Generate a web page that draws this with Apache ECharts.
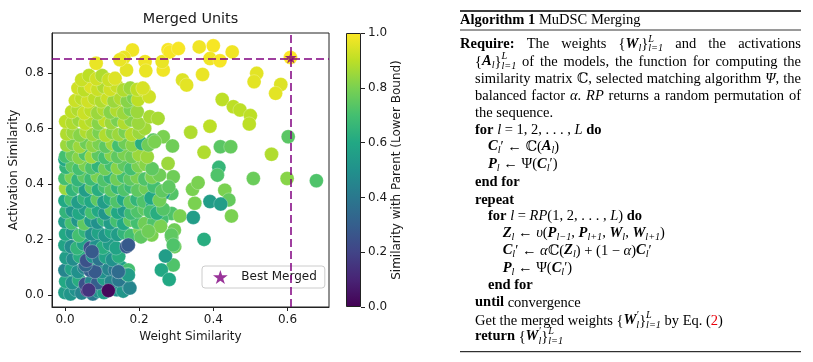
<!DOCTYPE html>
<html><head><meta charset="utf-8">
<script src="https://cdn.jsdelivr.net/npm/echarts@6/dist/echarts.min.js"></script>
<style>html,body{margin:0;padding:0;background:#fff}#c{width:813px;height:362px}</style>
</head><body><div id="c"></div><script>
// ---- data ----
const weightTicks = [0, 0.2, 0.4, 0.6];
const activationTicks = [0, 0.2, 0.4, 0.6, 0.8];
const colorbarTicks = [0, 0.2, 0.4, 0.6, 0.8, 1.0];
const viridis = ['#440154','#482475','#414487','#355f8d','#2a788e','#21918c','#22a884','#44bf70','#7ad151','#bddf26','#fde725'];
const bestMerged = [0.609, 0.855];
const colorbarValue = [1];
// [weight similarity, activation similarity, similarity with parent]
const clusterPoints = [
[0.000,0.010,0.55],[0.015,0.005,0.52],[0.030,0.020,0.50],[0.045,0.008,0.45],[0.060,0.019,0.15],[0.075,0.005,0.40],[0.090,0.015,0.50],[0.105,0.010,0.55],[0.140,0.020,0.50],[0.157,0.015,0.52],[0.173,0.029,0.45],
[0.002,0.050,0.60],[0.020,0.045,0.50],[0.038,0.055,0.62],[0.055,0.040,0.25],[0.072,0.050,0.45],[0.088,0.045,0.30],[0.105,0.060,0.55],[0.125,0.050,0.45],[0.145,0.055,0.40],
[0.000,0.090,0.45],[0.018,0.095,0.58],[0.035,0.085,0.50],[0.052,0.100,0.45],[0.068,0.090,0.30],[0.085,0.100,0.58],[0.100,0.085,0.50],[0.118,0.095,0.45],[0.135,0.091,0.40],[0.152,0.100,0.58],[0.171,0.091,0.70],[0.168,0.075,0.70],[0.144,0.085,0.38],[0.081,0.085,0.28],[0.055,0.109,0.33],
[0.003,0.135,0.55],[0.022,0.130,0.48],[0.040,0.140,0.62],[0.058,0.125,0.25],[0.075,0.140,0.50],[0.092,0.130,0.38],[0.110,0.138,0.58],[0.128,0.128,0.50],[0.145,0.140,0.62],
[0.000,0.180,0.58],[0.017,0.175,0.48],[0.033,0.170,0.65],[0.050,0.185,0.58],[0.068,0.170,0.25],[0.085,0.180,0.50],[0.102,0.172,0.62],[0.120,0.185,0.55],[0.138,0.170,0.58],[0.073,0.157,0.28],
[0.002,0.220,0.60],[0.020,0.225,0.52],[0.038,0.215,0.70],[0.055,0.230,0.65],[0.072,0.220,0.50],[0.090,0.225,0.58],[0.108,0.215,0.52],[0.125,0.228,0.60],[0.142,0.218,0.55],[0.160,0.225,0.65],[0.178,0.215,0.70],[0.202,0.235,0.80],
[0.000,0.265,0.55],[0.018,0.260,0.70],[0.035,0.270,0.52],[0.052,0.258,0.75],[0.070,0.268,0.55],[0.088,0.262,0.50],[0.105,0.272,0.65],[0.122,0.260,0.55],[0.140,0.268,0.70],[0.158,0.258,0.60],[0.176,0.270,0.75],[0.195,0.262,0.70],[0.215,0.258,0.78],
[0.003,0.300,0.65],[0.020,0.305,0.52],[0.038,0.295,0.60],[0.055,0.310,0.55],[0.072,0.298,0.70],[0.090,0.305,0.60],[0.108,0.295,0.52],[0.125,0.308,0.75],[0.142,0.298,0.60],[0.160,0.305,0.55],[0.178,0.295,0.68],[0.196,0.302,0.72],[0.215,0.310,0.75],
[0.000,0.340,0.60],[0.017,0.345,0.70],[0.035,0.335,0.55],[0.052,0.348,0.65],[0.070,0.338,0.60],[0.088,0.345,0.75],[0.105,0.335,0.55],[0.122,0.348,0.62],[0.140,0.338,0.72],[0.158,0.345,0.60],[0.176,0.335,0.75],[0.194,0.345,0.65],[0.212,0.338,0.72],
[0.002,0.385,0.85],[0.020,0.380,0.65],[0.038,0.390,0.70],[0.055,0.378,0.55],[0.072,0.388,0.75],[0.090,0.380,0.62],[0.108,0.390,0.70],[0.125,0.378,0.75],[0.142,0.388,0.65],[0.160,0.380,0.72],[0.178,0.390,0.68],[0.196,0.378,0.75],[0.218,0.385,0.78],
[0.000,0.420,0.70],[0.018,0.425,0.80],[0.035,0.415,0.65],[0.052,0.428,0.75],[0.070,0.418,0.68],[0.088,0.428,0.80],[0.105,0.415,0.72],[0.122,0.425,0.65],[0.140,0.418,0.78],[0.158,0.428,0.70],[0.176,0.418,0.75],[0.195,0.425,0.80],[0.215,0.418,0.72],
[0.003,0.460,0.65],[0.000,0.488,0.60],[0.020,0.465,0.75],[0.038,0.455,0.70],[0.055,0.468,0.80],[0.072,0.458,0.72],[0.090,0.465,0.65],[0.108,0.455,0.78],[0.125,0.468,0.70],[0.142,0.458,0.82],[0.160,0.468,0.75],[0.178,0.455,0.70],[0.198,0.465,0.80],[0.211,0.486,0.80],
[0.002,0.500,0.70],[0.020,0.505,0.78],[0.038,0.495,0.82],[0.055,0.508,0.72],[0.072,0.498,0.85],[0.090,0.505,0.75],[0.108,0.495,0.70],[0.125,0.505,0.82],[0.142,0.498,0.75],[0.160,0.508,0.80],[0.180,0.498,0.78],[0.200,0.505,0.85],
[0.005,0.540,0.85],[0.022,0.545,0.80],[0.040,0.535,0.85],[0.058,0.548,0.78],[0.075,0.538,0.83],[0.092,0.545,0.80],[0.110,0.535,0.75],[0.128,0.545,0.85],[0.145,0.538,0.70],[0.162,0.548,0.78],[0.182,0.540,0.82],[0.207,0.546,0.62],
[0.005,0.580,0.88],[0.022,0.585,0.85],[0.040,0.575,0.82],[0.058,0.588,0.88],[0.075,0.578,0.85],[0.092,0.585,0.80],[0.110,0.575,0.88],[0.128,0.585,0.82],[0.145,0.578,0.85],[0.162,0.588,0.80],[0.180,0.578,0.88],[0.200,0.585,0.85],[0.215,0.600,0.86],
[0.002,0.625,0.90],[0.020,0.620,0.88],[0.038,0.630,0.85],[0.055,0.618,0.90],[0.072,0.628,0.88],[0.090,0.618,0.82],[0.108,0.628,0.90],[0.125,0.620,0.85],[0.142,0.630,0.80],[0.160,0.620,0.88],[0.178,0.630,0.82],[0.198,0.618,0.85],
[0.018,0.660,0.90],[0.035,0.668,0.88],[0.052,0.655,0.92],[0.070,0.665,0.90],[0.088,0.655,0.85],[0.105,0.668,0.88],[0.122,0.658,0.82],[0.140,0.665,0.88],[0.158,0.655,0.85],[0.176,0.668,0.80],[0.195,0.660,0.85],
[0.028,0.700,0.92],[0.045,0.708,0.90],[0.062,0.698,0.93],[0.080,0.708,0.90],[0.098,0.698,0.88],[0.115,0.708,0.92],[0.132,0.698,0.85],[0.150,0.708,0.88],[0.168,0.698,0.82],[0.185,0.710,0.80],[0.197,0.703,0.90],
[0.035,0.745,0.93],[0.052,0.738,0.90],[0.070,0.750,0.95],[0.088,0.740,0.92],[0.105,0.750,0.88],[0.122,0.740,0.93],[0.140,0.752,0.92],[0.158,0.738,0.88],[0.176,0.745,0.85],[0.195,0.740,0.90],
[0.045,0.775,0.92],[0.065,0.790,0.90],[0.085,0.778,0.93],[0.100,0.790,0.88],[0.118,0.775,0.92],[0.135,0.780,0.95],
[0.117,0.017,0.02],[0.166,0.175,0.28],[0.171,0.181,0.28],[0.064,0.019,0.15]
];
const sparsePoints = [
[0.182,0.882,0.98],[0.084,0.834,0.97],[0.159,0.855,0.97],[0.166,0.810,0.96],[0.148,0.847,0.97],[0.216,0.840,0.98],[0.218,0.807,0.97],[0.265,0.810,0.98],[0.262,0.840,0.97],[0.278,0.883,0.99],[0.283,0.875,0.99],[0.306,0.887,0.99],[0.362,0.893,0.98],[0.400,0.897,0.99],[0.391,0.851,0.98],[0.418,0.843,0.99],[0.451,0.875,0.98],[0.371,0.794,0.97],[0.317,0.774,0.95],[0.328,0.756,0.96],[0.517,0.798,0.96],[0.510,0.768,0.96],[0.582,0.758,0.95],[0.568,0.726,0.96],[0.608,0.855,1.00],
[0.213,0.738,0.93],[0.227,0.714,0.93],[0.210,0.745,0.94],[0.229,0.642,0.87],[0.251,0.636,0.87],[0.265,0.570,0.80],[0.290,0.537,0.78],[0.278,0.474,0.85],[0.292,0.426,0.78],[0.288,0.366,0.73],[0.288,0.294,0.72],[0.288,0.208,0.75],[0.296,0.175,0.77],[0.292,0.109,0.72],[0.271,0.141,0.55],[0.260,0.091,0.60],[0.281,0.057,0.60],[0.310,0.285,0.80],
[0.238,0.558,0.75],[0.234,0.426,0.75],[0.247,0.378,0.70],[0.265,0.366,0.55],[0.236,0.319,0.60],[0.261,0.273,0.70],[0.234,0.217,0.80],[0.240,0.262,0.72],[0.258,0.248,0.80],[0.230,0.300,0.70],[0.248,0.295,0.62],[0.265,0.310,0.73],[0.232,0.350,0.60],[0.255,0.342,0.78],[0.240,0.392,0.70],[0.262,0.375,0.75],[0.280,0.390,0.75],[0.235,0.425,0.80],[0.255,0.432,0.78],[0.218,0.470,0.82],[0.235,0.455,0.75],[0.222,0.498,0.85],[0.225,0.540,0.78],[0.242,0.552,0.80],[0.205,0.210,0.75],[0.225,0.230,0.78],
[0.339,0.586,0.88],[0.375,0.514,0.88],[0.391,0.608,0.90],[0.424,0.704,0.90],[0.454,0.678,0.90],[0.472,0.666,0.90],[0.500,0.646,0.90],[0.497,0.616,0.90],[0.557,0.507,0.88],[0.602,0.570,0.74],[0.419,0.534,0.74],[0.447,0.534,0.76],[0.415,0.460,0.66],[0.411,0.432,0.72],[0.508,0.420,0.77],[0.599,0.420,0.82],[0.678,0.412,0.72],[0.431,0.378,0.80],[0.442,0.343,0.76],[0.449,0.285,0.80],[0.391,0.337,0.55],[0.420,0.328,0.55],[0.346,0.280,0.55],[0.375,0.201,0.62],[0.350,0.331,0.80],[0.344,0.381,0.80],[0.359,0.405,0.80],[0.295,0.235,0.78],
[0.175,0.026,0.45],[0.171,0.073,0.55],[0.144,0.085,0.35],[0.287,0.217,0.75],[0.292,0.181,0.72]
];

// ---- algorithm text ----
const algoLines = [
 {x:460, y:20, runs:[['b','Algorithm 1'],['r',' MuDSC Merging']]},
 {x:460, y:44, j:801, runs:[['b','Require:'],['r',' The weights '],['m','{'],['bi','W'],['sub','l'],['m','}'],['stack','L','l=1'],['r',' and the activations']]},
 {x:475, y:61.7, j:801, runs:[['m','{'],['bi','A'],['sub','l'],['m','}'],['stack','L','l=1'],['r',' of the models, the function for computing the']]},
 {x:475, y:79, j:801, runs:[['r','similarity matrix '],['m','ℂ'],['r',', selected matching algorithm '],['i','Ψ'],['r',', the']]},
 {x:475, y:96, j:801, runs:[['r','balanced factor '],['i','α'],['r','. '],['i','RP'],['r',' returns a random permutation of']]},
 {x:475, y:113, runs:[['r','the sequence.']]},
 {x:475, y:130, runs:[['b','for '],['i','l'],['m',' = 1, 2, . . . , '],['i','L'],['b',' do']]},
 {x:488, y:146.7, runs:[['bi','C'],['sub','l'],['m','′ ← ℂ('],['bi','A'],['sub','l'],['m',')']]},
 {x:488, y:164, runs:[['bi','P'],['sub','l'],['m',' ← Ψ('],['bi','C'],['sub','l'],['m','′)']]},
 {x:475, y:182.3, runs:[['b','end for']]},
 {x:475, y:200, runs:[['b','repeat']]},
 {x:488, y:216, runs:[['b','for '],['i','l'],['m',' = '],['i','RP'],['m','(1, 2, . . . , '],['i','L'],['m',') '],['b','do']]},
 {x:502.7, y:233.3, runs:[['bi','Z'],['sub','l'],['m',' ← '],['i','υ'],['m','('],['bi','P'],['sub','l−1'],['m',', '],['bi','P'],['sub','l+1'],['m',', '],['bi','W'],['sub','l'],['m',', '],['bi','W'],['sub','l+1'],['m',')']]},
 {x:502.7, y:250.7, runs:[['bi','C'],['sub','l'],['m','′ ← '],['i','α'],['m','ℂ('],['bi','Z'],['sub','l'],['m',') + (1 − '],['i','α'],['m',')'],['bi','C'],['sub','l'],['m','′']]},
 {x:502.7, y:268.3, runs:[['bi','P'],['sub','l'],['m',' ← Ψ('],['bi','C'],['sub','l'],['m','′)']]},
 {x:488, y:285, runs:[['b','end for']]},
 {x:475, y:302.7, runs:[['b','until'],['r',' convergence']]},
 {x:475, y:320.7, runs:[['r','Get the merged weights '],['m','{'],['bi','W'],['stack','′','l'],['m','}'],['stack','L','l=1'],['r',' by Eq. ('],['red','2'],['r',')']]},
 {x:475, y:336.7, runs:[['b','return'],['m',' {'],['bi','W'],['stack','′','l'],['m','}'],['stack','L','l=1']]}
];

const SERIF = '"Liberation Serif","DejaVu Serif",serif';
const FS = 14.5, SS = 10.2;
const runFont = {
  r:`${FS}px ${SERIF}`, m:`${FS}px ${SERIF}`, red:`${FS}px ${SERIF}`,
  b:`bold ${FS}px ${SERIF}`, i:`italic ${FS}px ${SERIF}`, bi:`italic bold ${FS}px ${SERIF}`,
  sub:`italic ${SS}px ${SERIF}`
};
const mctx = document.createElement('canvas').getContext('2d');
function tw(t, f){ mctx.font = f; return mctx.measureText(t).width; }
const graphics = [];
function put(text, x, y, font, fill){
  graphics.push({type:'text', x:x, y:y, silent:true, z:10,
    style:{text:text, font:font, fill:fill||'#000', textAlign:'left', textVerticalAlign:'middle'}});
}
algoLines.forEach(L => {
  const toks = [];
  L.runs.forEach(r => {
    const k = r[0];
    if (k === 'stack') { toks.push({k, sup:r[1], sub:r[2], w:Math.max(tw(r[1],runFont.sub), tw(r[2],runFont.sub))}); return; }
    if (k === 'r' || k === 'b') {
      r[1].split(/( )/).forEach(p => {
        if (p === '') return;
        if (p === ' ') toks.push({k:'sp', w:tw(' ', runFont[k])});
        else toks.push({k, t:p, w:tw(p, runFont[k])});
      });
      return;
    }
    toks.push({k, t:r[1], w:tw(r[1], runFont[k])});
  });
  let total = 0, ns = 0;
  toks.forEach(t => { total += t.w; if (t.k === 'sp') ns++; });
  const extra = (L.j && ns) ? (L.j - L.x - total) / ns : 0;
  let x = L.x;
  toks.forEach(t => {
    if (t.k === 'sp') { x += t.w + extra; return; }
    if (t.k === 'stack') { put(t.sup, x, L.y - 5, runFont.sub); put(t.sub, x, L.y + 4.5, runFont.sub); }
    else if (t.k === 'sub') put(t.t, x, L.y + 4, runFont.sub);
    else put(t.t, x, L.y, runFont[t.k], t.k === 'red' ? '#e8000b' : '#000');
    x += t.w;
  });
});
// rules
[[11,1.3],[30,0.8],[351.7,1.0]].forEach(r => {
  graphics.push({type:'line', silent:true, shape:{x1:460, y1:r[0], x2:801, y2:r[0]}, style:{stroke:'#000', lineWidth:r[1]}});
});

// ---- chart ----
const starPath = 'path://M50 0 L61.23 34.55 L97.55 34.55 L68.17 55.9 L79.39 90.45 L50 69.1 L20.61 90.45 L31.83 55.9 L2.45 34.55 L38.77 34.55 Z';
const SANS = '"DejaVu Sans", sans-serif';
const TXT = '#1a1a1a';
const fmt = v => v.toFixed(1);
const chart = echarts.init(document.getElementById('c'), null, {renderer:'canvas'});
chart.setOption({
  animation: false,
  backgroundColor: '#fff',
  title: {text:'Merged Units', left:190.5, top:12, padding:0, textAlign:'center',
    textStyle:{fontFamily:SANS, fontSize:14.4, fontWeight:'normal', color:TXT}},
  legend: {data:[{name:'Best Merged', icon:starPath}], left:202, top:266, orient:'horizontal',
    padding:[4,8,4,11], itemWidth:32, itemHeight:14, borderColor:'#cccccc', borderWidth:1, borderRadius:3,
    backgroundColor:'rgba(255,255,255,0.85)', selectedMode:false,
    textStyle:{fontFamily:SANS, fontSize:12, color:TXT}},
  grid: [
    {left:52, top:33, width:277, height:274, show:true, borderColor:'#222', borderWidth:1, backgroundColor:'transparent', outerBoundsMode:'none', containLabel:false},
    {left:346, top:33, width:15, height:274, show:false, outerBoundsMode:'none', containLabel:false}
  ],
  xAxis: [
    {type:'value', gridIndex:0, position:'bottom', min:-0.035, max:0.712, name:'Weight Similarity', nameLocation:'middle', nameGap:24,
     nameTextStyle:{fontFamily:SANS, fontSize:12, color:TXT},
     axisLine:{show:true, onZero:false, lineStyle:{color:'#222', width:1}}, splitLine:{show:false},
     axisTick:{show:true, inside:false, customValues:weightTicks, length:4, lineStyle:{color:'#222'}},
     axisLabel:{customValues:weightTicks, formatter:fmt, margin:7, fontFamily:SANS, fontSize:12, color:TXT}},
    {type:'category', gridIndex:1, data:['c'], show:false}
  ],
  yAxis: [
    {type:'value', gridIndex:0, position:'left', min:-0.042, max:0.943, name:'Activation Similarity', nameLocation:'middle', nameGap:32, nameRotate:90,
     nameTextStyle:{fontFamily:SANS, fontSize:12, color:TXT},
     axisLine:{show:true, onZero:false, lineStyle:{color:'#222', width:1}}, splitLine:{show:false},
     axisTick:{show:true, inside:false, customValues:activationTicks, length:4, lineStyle:{color:'#222'}},
     axisLabel:{customValues:activationTicks, formatter:fmt, margin:8, fontFamily:SANS, fontSize:12, color:TXT}},
    {type:'value', gridIndex:1, position:'right', min:0, max:1, interval:0.2,
     name:'Similarity with Parent (Lower Bound)', nameLocation:'middle', nameGap:30, nameRotate:90,
     nameTextStyle:{fontFamily:SANS, fontSize:12, color:TXT},
     axisLine:{show:false, onZero:false}, splitLine:{show:false},
     axisTick:{show:true, length:4, lineStyle:{color:'#222'}},
     axisLabel:{formatter:fmt, margin:7, fontFamily:SANS, fontSize:12, color:TXT}}
  ],
  visualMap: {type:'continuous', show:false, seriesIndex:0, dimension:2, min:0, max:1, inRange:{color:viridis}},
  series: [
    {name:'Merged Units', type:'scatter', xAxisIndex:0, yAxisIndex:0, symbol:'circle', symbolSize:14,
     data: clusterPoints.concat(sparsePoints), z:2,
     itemStyle:{opacity:1, borderColor:'rgba(255,255,255,0.5)', borderWidth:0.5}},
    {name:'Best Merged', type:'scatter', xAxisIndex:0, yAxisIndex:0, symbol:starPath, symbolSize:12, z:5,
     data:[bestMerged], itemStyle:{color:'#800080'},
     markLine:{silent:true, symbol:['none','none'], label:{show:false}, animation:false,
       lineStyle:{color:'#800080', type:[8,4], width:1.5},
       data:[{xAxis:bestMerged[0]}, {yAxis:bestMerged[1]}]}},
    {name:'colorbar', type:'bar', xAxisIndex:1, yAxisIndex:1, data:colorbarValue, barWidth:'100%', silent:true,
     itemStyle:{borderColor:'#222', borderWidth:1,
       color:{type:'linear', x:0, y:1, x2:0, y2:0, colorStops: viridis.map((c,i)=>({offset:i/10, color:c}))}}}
  ],
  graphic: graphics
});
</script></body></html>
